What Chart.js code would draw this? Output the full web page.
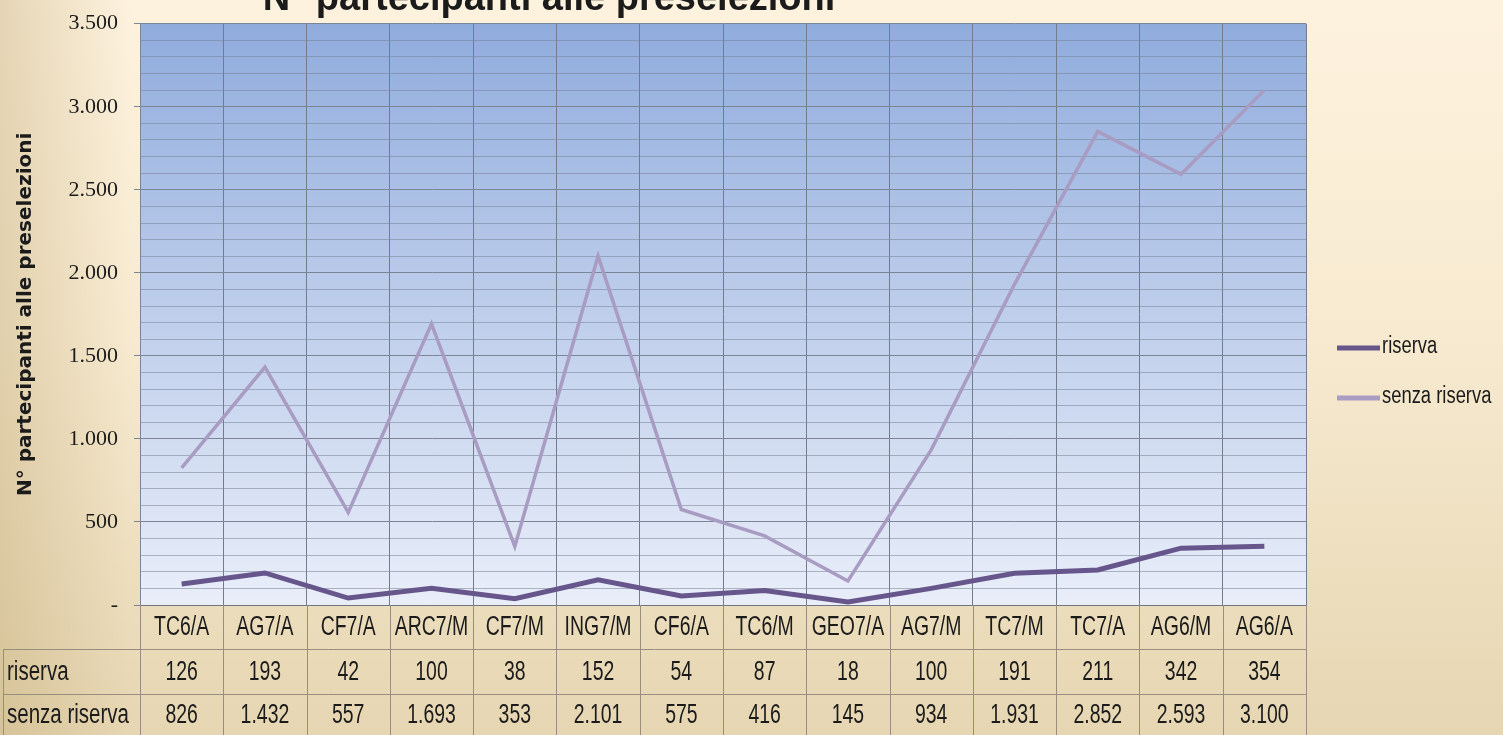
<!DOCTYPE html>
<html>
<head>
<meta charset="utf-8">
<script src="https://cdn.jsdelivr.net/npm/chart.js@4"></script>
<style>
  html, body { margin: 0; padding: 0; }
  body {
    width: 1503px; height: 735px; overflow: hidden;
    background:
      linear-gradient(to right, rgba(185,160,105,0.35) 0px, rgba(185,160,105,0) 130px),
      linear-gradient(to bottom, #fdf2de 0%, #f7ead0 45%, #e6d6b2 100%);
  }
  canvas { display: block; }
</style>
</head>
<body>
<canvas id="lineChart" width="1503" height="735"></canvas>
<script>
// dati
const categorie = ['TC6/A', 'AG7/A', 'CF7/A', 'ARC7/M', 'CF7/M', 'ING7/M', 'CF6/A', 'TC6/M', 'GEO7/A', 'AG7/M', 'TC7/M', 'TC7/A', 'AG6/M', 'AG6/A'];
const riserva = [126, 193, 42, 100, 38, 152, 54, 87, 18, 100, 191, 211, 342, 354];
const senzaRiserva = [826, 1432, 557, 1693, 353, 2101, 575, 416, 145, 934, 1931, 2852, 2593, 3100];
const titolo = 'N° partecipanti alle preselezioni';
const titoloAsse = 'N° partecipanti alle preselezioni';

const sans = '"Liberation Sans", Arial, sans-serif';

function fmt(v) {
    if (v === 0) return '-';
    return String(v).replace(/\B(?=(\d{3})+(?!\d))/g, '.');
}

// testo "stretto" (simula Calibri)
function testo(ctx, t, x, y, align, size, sx) {
    ctx.save();
    ctx.translate(x, y);
    ctx.scale(sx, 1);
    ctx.font = size + 'px ' + sans;
    ctx.textAlign = align;
    ctx.textBaseline = 'middle';
    ctx.fillText(t, 0, 0);
    ctx.restore();
}

const serie = [
    { label: 'riserva', data: riserva, color: '#67568b', width: 5 },
    { label: 'senza riserva', data: senzaRiserva, color: '#a99cc2', width: 3.5 }
];

// sfondo area del grafico (gradiente blu)
const sfondoPlot = {
    id: 'sfondoPlot',
    beforeDraw(chart) {
        const { ctx, chartArea: a } = chart;
        const g = ctx.createLinearGradient(0, a.top, 0, a.bottom);
        g.addColorStop(0, '#90acdd');
        g.addColorStop(0.45, '#bacbea');
        g.addColorStop(1, '#e9eef9');
        ctx.save();
        ctx.fillStyle = g;
        ctx.fillRect(a.left, a.top, a.right - a.left, a.bottom - a.top);
        ctx.restore();
    }
};

// titolo, legenda e tabella dati
const extra = {
    id: 'extra',
    afterDraw(chart) {
        const { ctx, chartArea: a, scales } = chart;
        const x = scales.x;
        ctx.save();

        // titolo (tagliato in alto come nell'originale)
        ctx.fillStyle = '#1b1b1b';
        ctx.font = 'bold 38px ' + sans;
        ctx.textAlign = 'center';
        ctx.textBaseline = 'alphabetic';
        ctx.fillText(titolo, 549, 10);

        // legenda
        const ly = [348, 398];
        serie.forEach((s, i) => {
            ctx.strokeStyle = s.color;
            ctx.lineWidth = 5;
            ctx.beginPath();
            ctx.moveTo(1337, ly[i]);
            ctx.lineTo(1380, ly[i]);
            ctx.stroke();
            ctx.fillStyle = '#1b1b1b';
            testo(ctx, s.label, 1382, ly[i] - 1, 'left', 23, 0.8);
        });

        // tabella
        const r1 = 649, r2 = 694, r3 = 736;
        const step = (x.getPixelForValue(1) - x.getPixelForValue(0));
        ctx.strokeStyle = '#978e7e';
        ctx.lineWidth = 1;
        ctx.beginPath();
        [r1, r2, r3 - 1].forEach(y => {
            ctx.moveTo(3, y + 0.5);
            ctx.lineTo(a.right, y + 0.5);
        });
        ctx.moveTo(3.5, r1);
        ctx.lineTo(3.5, r3);
        for (let i = 0; i <= categorie.length; i++) {
            const px = Math.round(x.getPixelForValue(0) - step / 2 + i * step) + 0.5;
            ctx.moveTo(px, a.bottom);
            ctx.lineTo(px, r3);
        }
        ctx.stroke();

        ctx.fillStyle = '#1b1b1b';
        categorie.forEach((c, i) => testo(ctx, x.getLabelForValue(i), x.getPixelForValue(i), (a.bottom + r1) / 2 + 1, 'center', 27, 0.72));
        serie.forEach((s, k) => {
            const yc = (k === 0 ? (r1 + r2) / 2 : (r2 + r3) / 2) + 1;
            testo(ctx, s.label, 7, yc, 'left', 27, 0.76);
            s.data.forEach((v, i) => testo(ctx, fmt(v), x.getPixelForValue(i), yc, 'center', 27, 0.72));
        });
        ctx.restore();
    }
};

const ctx = document.getElementById('lineChart').getContext('2d');
const lineChart = new Chart(ctx, {
    type: 'line',
    data: {
        labels: categorie,
        datasets: serie.map(s => ({
            label: s.label,
            data: s.data,
            borderColor: s.color,
            backgroundColor: s.color,
            borderWidth: s.width,
            pointRadius: 0,
            tension: 0,
            fill: false
        }))
    },
    options: {
        responsive: false,
        animation: false,
        layout: { padding: { top: 0, right: 197, bottom: 86, left: 0 } },
        plugins: {
            legend: { display: false },
            tooltip: { enabled: false }
        },
        scales: {
            x: {
                offset: true,
                grid: { offset: true, color: '#727c8c', drawTicks: false },
                border: { color: '#6f7480' },
                ticks: { display: false, autoSkip: false },
                afterFit(scale) { scale.height = 44; }
            },
            y: {
                min: 0,
                max: 3500,
                ticks: {
                    stepSize: 100,
                    autoSkip: false,
                    color: '#1b1b1b',
                    font: { family: '"Liberation Serif", "Times New Roman", serif', size: 22, lineHeight: 0.7 },
                    padding: 16,
                    callback: v => (v % 500 === 0 ? fmt(v) : '')
                },
                grid: {
                    tickLength: 6,
                    color: c => (c.tick.value % 500 === 0 ? '#7c8595' : 'rgba(120,132,150,0.55)'),
                    tickColor: c => (c.tick.value % 500 === 0 ? '#7c8595' : 'rgba(0,0,0,0)')
                },
                border: { color: '#7c8595' },
                title: {
                    display: true,
                    text: titoloAsse,
                    color: '#1b1b1b',
                    font: { family: '"DejaVu Sans", Verdana, sans-serif', size: 20, weight: 'bold' },
                    padding: { top: 14, bottom: 0 }
                },
                afterFit(scale) { scale.width = 140; }
            }
        }
    },
    plugins: [sfondoPlot, extra]
});
</script>
</body>
</html>
